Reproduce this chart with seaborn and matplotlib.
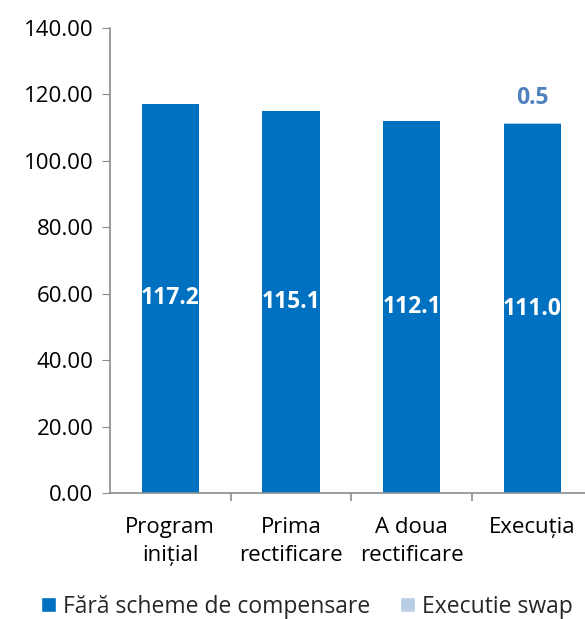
import pandas as pd
import matplotlib.pyplot as plt
import seaborn as sns
from matplotlib.patches import Patch

sns.set_style("white")
plt.rcParams["font.family"] = ["Open Sans", "DejaVu Sans"]

# --------------------------------------------------
# Data
# --------------------------------------------------

categories = ["Program\ninițial", "Prima\nrectificare", "A doua\nrectificare", "Execuția"]
fara_scheme = [117.2, 115.1, 112.1, 111.0]
swap = [0.0, 0.0, 0.0, 0.5]

BLUE = "#0070C0"
LIGHT = "#B9CDE5"
LABEL_BLUE = "#4F81BD"
AXIS = "#8C8C8C"

df = pd.DataFrame({
    "categorie": categories,
    "fara": fara_scheme,
    "swap": swap,
})
df["total"] = df["fara"] + df["swap"]

# --------------------------------------------------
# Chart
# --------------------------------------------------

fig = plt.figure(figsize=(5.85, 6.19), dpi=100)
ax = fig.add_axes([0.188, 0.2036, 0.825, 0.7512])

# stacked: draw total first (swap colour), then base on top
sns.barplot(data=df, x="categorie", y="total", color=LIGHT, width=0.475,
            saturation=1, linewidth=0, ax=ax)
sns.barplot(data=df, x="categorie", y="fara", color=BLUE, width=0.475,
            saturation=1, linewidth=0, ax=ax)

ax.bar_label(ax.containers[1], labels=[f"{v:.1f}" for v in fara_scheme],
             label_type="center", color="white", fontweight="bold", fontsize=16.5)
ax.bar_label(ax.containers[0],
             labels=[f"{v:.1f}" if v > 0 else "" for v in swap],
             padding=9, color=LABEL_BLUE, fontweight="bold", fontsize=16.5)

ax.set_ylim(0, 140)
ax.set_yticks(range(0, 141, 20))
ax.set_yticklabels([f"{v:.2f}" for v in range(0, 141, 20)])
ax.set_xlim(-0.5, 3.5)
ax.set_xticks(range(len(categories)))
ax.set_xticklabels(categories, linespacing=1.45)
ax.set_xticks([0.5, 1.5, 2.5], minor=True)

ax.set_xlabel("")
ax.set_ylabel("")

for side in ["top", "right"]:
    ax.spines[side].set_visible(False)
for side in ["left", "bottom"]:
    ax.spines[side].set_color(AXIS)
    ax.spines[side].set_linewidth(1.2)

ax.tick_params(axis="y", which="major", left=True, length=6, color=AXIS,
               labelsize=16, pad=6, labelcolor="black")
ax.tick_params(axis="x", which="major", bottom=False, labelsize=16, pad=14,
               labelcolor="black")
ax.tick_params(axis="x", which="minor", bottom=True, length=6, color=AXIS,
               width=1.2)

handles = [Patch(facecolor=BLUE, label="Fără scheme de compensare"),
           Patch(facecolor=LIGHT, label="Executie swap")]
fig.legend(handles=handles, loc="lower center", ncol=2, frameon=False,
           fontsize=16.5, handlelength=0.65, handleheight=0.65,
           handletextpad=0.3, columnspacing=1.3,
           bbox_to_anchor=(0.525, -0.033))

plt.savefig("out.png", dpi=100)
plt.close()
